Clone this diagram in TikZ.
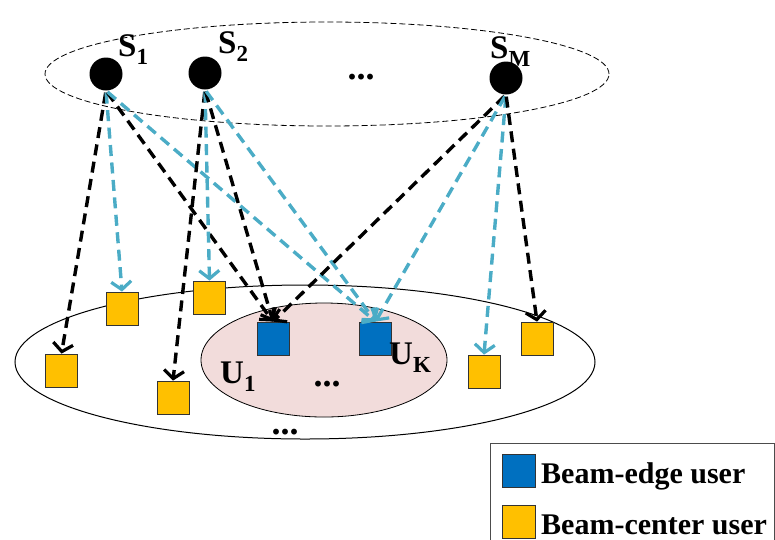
\documentclass[tikz,border=0pt]{standalone}
\usepackage{fontspec}
\setmainfont{Liberation Serif}
\usetikzlibrary{arrows.meta}
\definecolor{ublue}{HTML}{0070C0}
\definecolor{uyellow}{HTML}{FFC000}
\definecolor{lblue}{HTML}{4BACC6}
\definecolor{pinkf}{HTML}{F2DCDB}
\newcommand{\mysub}[2]{#1\raisebox{-8pt}{\fontsize{23}{23}\selectfont #2}}
\begin{document}
\begin{tikzpicture}[x=1pt,y=-1pt,
  sat/.style={circle,fill=black,minimum size=33pt,inner sep=0pt},
  ubox/.style={draw=black!80,line width=0.8pt,minimum width=32pt,minimum height=33pt,inner sep=0pt},
  edgebox/.style={ubox,fill=ublue},
  centerbox/.style={ubox,fill=uyellow},
  lnk/.style={line width=3.4pt,dash pattern=on 11pt off 6.5pt,-{Straight Barb[length=8pt,width=20pt,line width=3.2pt]},shorten <=2pt},
  blk/.style={lnk,draw=black},
  cyn/.style={lnk,draw=lblue},
  lbl/.style={font=\bfseries\fontsize{33}{34}\selectfont,inner sep=0pt,anchor=base west},
  dots/.style={font=\bfseries\fontsize{36}{36}\selectfont,inner sep=0pt,anchor=base},
  legtxt/.style={font=\bfseries\fontsize{30}{32}\selectfont,inner sep=0pt,anchor=base west},
]
\useasboundingbox (0,0) rectangle (775,539);

% ellipses
\draw[line width=0.8pt,dash pattern=on 6pt off 3pt] (327,74) ellipse [x radius=282pt, y radius=52pt];
\draw[line width=1pt] (305,362) ellipse [x radius=290pt, y radius=77pt];
\draw[line width=0.8pt,fill=pinkf] (324,360) ellipse [x radius=123pt, y radius=57pt];

% satellites
\node[sat] (s1) at (106,74) {};
\node[sat] (s2) at (205,73) {};
\node[sat] (sm) at (506,78) {};
\node[lbl] (ls1) at (118,56) {\mysub{S}{1}};
\node[lbl] (ls2) at (218,53) {\mysub{S}{2}};
\node[lbl] (lsm) at (490,58) {\mysub{S}{M}};
\node[dots] (tdots) at (361,79) {...};

% users
\node[centerbox] (y1) at (122,308.5) {};
\node[centerbox] (y2) at (209.5,297.5) {};
\node[centerbox] (y3) at (61.5,370.5) {};
\node[centerbox] (y4) at (173,397.5) {};
\node[centerbox] (y5) at (484,371.5) {};
\node[centerbox] (y6) at (537,338.5) {};
\node[edgebox] (u1) at (273,338.5) {};
\node[edgebox] (uk) at (375.5,338.5) {};
\node[lbl] (lu1) at (220,383) {\mysub{U}{1}};
\node[lbl] (luk) at (389,364) {\mysub{U}{K}};
\node[dots] (mdots) at (327,386) {...};
\node[dots] (bdots) at (285,434) {...};

% links
\draw[blk] (s1.south) -- (y3.north);
\draw[cyn] (s1.south) -- (y1.north);
\draw[blk] (s1.south) -- (u1.north);
\draw[cyn] (s1.south) -- (uk.north);
\draw[blk] (s2.south) -- (y4.north);
\draw[cyn] (s2.south) -- (y2.north);
\draw[blk] (s2.south) -- (u1.north);
\draw[cyn] (s2.south) -- (uk.north);
\draw[blk] (sm.south) -- (u1.north);
\draw[cyn] (sm.south) -- (uk.north);
\draw[cyn] (sm.south) -- (y5.north);
\draw[blk] (sm.south) -- (y6.north);

% legend
\draw[black!70,line width=1pt] (490,545) -- (490,443) -- (774,443) -- (774,545);
\node[edgebox,minimum width=33pt] (le) at (518.5,470.5) {};
\node[centerbox,minimum width=33pt] (lc) at (518.5,522) {};
\node[legtxt] (te) at (541,483) {Beam-edge user};
\node[legtxt] (tc) at (541,534) {Beam-center user};
\end{tikzpicture}
\end{document}
